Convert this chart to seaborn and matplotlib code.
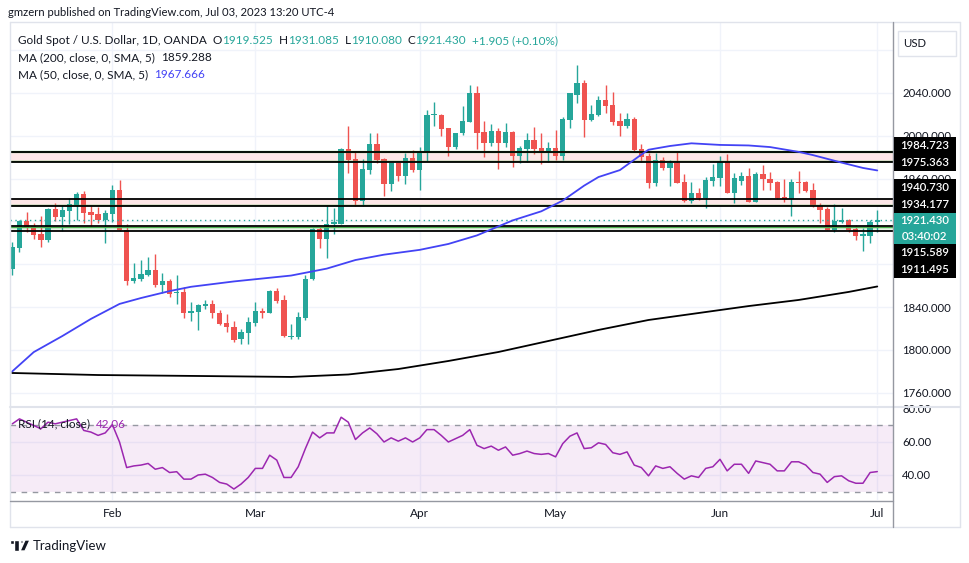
import numpy as np
import pandas as pd
import matplotlib
matplotlib.use("Agg")
import matplotlib.pyplot as plt
from matplotlib.patches import Rectangle, Circle, Polygon
from matplotlib.lines import Line2D
import seaborn as sns

sns.set_style("white")
plt.rcParams['font.family'] = ['Lato', 'DejaVu Sans']

# ---- data ----
dates = pd.bdate_range('2023-01-12', '2023-07-03')
dates = dates[dates != pd.Timestamp('2023-04-07')]   # Good Friday, no bar

opens = [1875.4, 1895.5, 1920.2, 1915.8, 1908.3, 1902.7, 1931.4, 1924.5, 1930.1, 1935.4,
         1945.7, 1928.9, 1926.7, 1921.4, 1927.3, 1949.4, 1912.1, 1864.7, 1866.6, 1870.0,
         1874.7, 1860.7, 1864.4, 1852.9, 1854.2, 1834.8, 1835.8, 1841.4, 1843.0, 1834.5,
         1824.9, 1821.5, 1810.0, 1816.2, 1825.2, 1836.4, 1834.8, 1855.1, 1846.7, 1812.4,
         1812.4, 1830.2, 1866.0, 1913.0, 1903.4, 1917.6, 1917.7, 1987.7, 1978.4, 1939.4,
         1968.1, 1992.4, 1978.4, 1955.0, 1974.3, 1962.5, 1979.0, 1968.1, 1983.7, 2019.2,
         2019.5, 2007.0, 1989.8, 2002.4, 2013.2, 2040.3, 2003.9, 1993.6, 2004.5, 1993.6,
         2003.9, 1981.4, 1987.7, 1996.1, 1988.6, 1986.1, 1988.6, 1981.4, 2014.8, 2038.4,
         2049.1, 2014.8, 2019.5, 2033.5, 2028.8, 2013.9, 2009.5, 2015.7, 1987.4, 1981.2,
         1956.2, 1977.4, 1970.2, 1974.3, 1956.6, 1939.4, 1946.3, 1942.2, 1958.1, 1960.9,
         1976.5, 1946.9, 1957.8, 1962.8, 1938.5, 1964.4, 1959.7, 1957.2, 1943.2, 1940.7,
         1956.6, 1956.6, 1949.4, 1935.4, 1931.7, 1912.1, 1919.2, 1921.7, 1913.0, 1906.7,
         1906.7, 1919.525]
highs = [1900.8, 1921.4, 1928.9, 1918.9, 1925.1, 1932.9, 1937.0, 1935.4, 1941.7, 1947.5,
         1948.8, 1934.5, 1933.9, 1930.7, 1954.1, 1958.7, 1917.7, 1881.0, 1884.0, 1886.5,
         1889.4, 1871.6, 1866.3, 1869.8, 1858.5, 1844.5, 1843.0, 1846.7, 1846.7, 1837.3,
         1833.3, 1826.8, 1819.3, 1830.6, 1844.5, 1839.0, 1856.0, 1858.2, 1851.4, 1824.3,
         1835.2, 1870.0, 1913.8, 1914.6, 1935.4, 1933.0, 1988.2, 2009.2, 1984.6, 1978.4,
         2002.9, 2002.9, 1978.9, 1974.9, 1974.8, 1984.2, 1986.8, 1989.8, 2024.1, 2031.3,
         2020.4, 2007.5, 2002.9, 2027.9, 2047.5, 2046.5, 2013.9, 2011.0, 2007.0, 2012.3,
         2004.5, 1990.5, 2002.4, 2008.0, 2002.9, 1994.2, 2005.4, 2017.9, 2040.3, 2066.1,
         2052.1, 2028.8, 2037.2, 2047.5, 2041.2, 2021.6, 2021.6, 2017.9, 1992.4, 1983.7,
         1983.7, 1980.5, 1977.4, 1984.6, 1964.4, 1956.6, 1951.0, 1961.8, 1973.7, 1981.4,
         1983.0, 1965.0, 1966.5, 1969.6, 1966.5, 1972.8, 1966.5, 1957.6, 1959.7, 1959.7,
         1967.2, 1957.8, 1955.7, 1937.6, 1933.8, 1936.3, 1932.9, 1922.1, 1916.7, 1913.6,
         1921.4, 1931.085]
lows = [1870.3, 1891.8, 1910.5, 1903.6, 1896.4, 1901.1, 1920.0, 1911.1, 1917.7, 1921.1,
        1918.4, 1915.8, 1918.4, 1900.2, 1919.8, 1911.1, 1860.7, 1862.3, 1864.7, 1868.9,
        1859.1, 1852.9, 1849.8, 1843.0, 1830.1, 1827.0, 1818.7, 1838.0, 1829.6, 1823.3,
        1817.1, 1807.7, 1805.3, 1805.3, 1822.7, 1830.1, 1834.5, 1843.6, 1812.4, 1810.0,
        1810.3, 1828.0, 1865.5, 1895.5, 1885.6, 1908.3, 1917.2, 1965.6, 1934.5, 1934.5,
        1964.4, 1974.9, 1943.8, 1948.5, 1957.8, 1955.0, 1966.0, 1949.4, 1976.8, 2009.5,
        2000.2, 1981.4, 1987.7, 2000.8, 2012.8, 1987.7, 1980.5, 1990.8, 1969.0, 1989.8,
        1971.2, 1974.3, 1975.8, 1982.7, 1973.7, 1975.3, 1977.4, 1977.4, 2007.6, 2030.4,
        1999.2, 2013.9, 2018.5, 2021.0, 2010.1, 2000.2, 2007.6, 1985.2, 1975.3, 1951.6,
        1953.4, 1968.1, 1953.4, 1955.8, 1938.5, 1937.0, 1940.1, 1932.3, 1953.4, 1953.1,
        1946.5, 1937.6, 1954.1, 1938.2, 1938.2, 1949.4, 1949.4, 1940.7, 1938.5, 1925.0,
        1946.9, 1947.8, 1933.9, 1918.3, 1911.6, 1909.9, 1918.8, 1910.5, 1902.7, 1892.7,
        1900.2, 1910.08]
closes = [1895.9, 1920.2, 1914.6, 1907.7, 1903.0, 1931.4, 1924.5, 1930.7, 1936.4, 1945.7,
          1928.2, 1926.3, 1921.4, 1927.6, 1949.4, 1911.6, 1864.7, 1867.5, 1870.7, 1874.7,
          1860.7, 1864.4, 1852.3, 1854.2, 1834.8, 1836.1, 1842.0, 1843.0, 1834.2, 1824.6,
          1821.2, 1809.3, 1816.8, 1826.1, 1836.4, 1834.8, 1855.4, 1846.0, 1812.9, 1813.4,
          1830.5, 1866.0, 1913.3, 1903.4, 1917.7, 1919.2, 1987.7, 1977.4, 1939.4, 1969.0,
          1992.4, 1977.4, 1955.0, 1974.3, 1962.5, 1979.0, 1968.1, 1984.2, 2019.5, 2019.7,
          2006.4, 1989.8, 2002.4, 2013.9, 2040.3, 2002.9, 1993.6, 2004.8, 1993.6, 2003.9,
          1981.4, 1988.6, 1996.1, 1987.7, 1986.1, 1988.6, 1981.4, 2015.7, 2039.7, 2049.1,
          2014.8, 2020.4, 2033.5, 2028.1, 2013.2, 2009.5, 2015.7, 1986.8, 1980.5, 1956.2,
          1977.4, 1970.2, 1974.3, 1956.2, 1939.4, 1946.3, 1942.2, 1958.7, 1961.8, 1976.5,
          1946.9, 1960.9, 1962.8, 1938.5, 1964.4, 1959.4, 1956.2, 1942.2, 1940.7, 1956.6,
          1955.7, 1948.8, 1934.5, 1930.7, 1912.1, 1920.5, 1921.7, 1912.1, 1906.7, 1908.0,
          1919.5, 1921.43]
rsi = [71, 74, 72, 70, 68, 72, 71, 72, 73, 74,
       67, 66, 64, 65.5, 70.5, 60, 44.5, 45.5, 46, 47,
       43.5, 44.5, 41.5, 42, 37.5, 37.5, 40, 40.5, 38.5, 35.5,
       34.5, 31.5, 34.5, 38.5, 44, 44, 52, 49, 38.5, 38.5,
       45, 56, 66, 62.5, 65.5, 65.5, 75, 72, 61.5, 65.5,
       68.5, 65, 60, 62.5, 60.5, 62.5, 60, 62.5, 67.5, 67.5,
       64, 60, 62, 64, 67.5, 58, 56, 57.5, 55, 57,
       52, 53, 54.5, 53, 52.5, 53, 51, 59, 63.5, 65.5,
       56, 56.5, 59.5, 58.5, 53.5, 52.5, 54, 46, 44.5, 39.5,
       45.5, 44, 45, 41, 37.5, 39.5, 38.5, 44, 45, 49.5,
       42.5, 46.5, 46.5, 41, 48.5, 47.5, 46.5, 42.5, 42.5, 48,
       48, 46, 41.5, 40.5, 35.5, 39, 39.5, 36.5, 35, 35,
       41.5, 42.06]

# moving averages, read at a few bars (bar number, value)
ma50_bar = [0, 3, 7, 11, 15, 18, 22, 25, 31, 39, 44, 48, 52, 57, 61, 65, 70, 74, 77, 80,
            82, 85, 88, 89, 92, 95, 99, 103, 106, 110, 112, 116, 119, 121]
ma50_val = [1780, 1798, 1813, 1829, 1843, 1848.5, 1855, 1859, 1864, 1869.5,
            1876, 1884, 1889, 1893.5, 1899, 1907, 1921, 1929.5, 1939.5, 1953.5,
            1961.5, 1968, 1982.5, 1987, 1990.5, 1993, 1991.5, 1991, 1989.5, 1985,
            1982, 1975, 1970, 1967.666]
ma200_bar = [0, 12, 26, 39, 47, 54, 61, 68, 75, 82, 89, 96, 103, 110, 117, 121]
ma200_val = [1778.5, 1776.6, 1775.7, 1774.8, 1777.1, 1782.2, 1789.7, 1798.1, 1808.4,
             1818.7, 1828.0, 1834.5, 1841.0, 1846.7, 1854.2, 1859.288]

levels = [1984.723, 1975.363, 1940.730, 1934.177, 1915.589, 1911.495]
countdown = "03:40:02"
price_ticks = [1760, 1800, 1840, 1880, 1920, 1960, 2000, 2040, 2080]
hidden_ticks = [1880, 1920, 2080]      # covered by the price boxes on the scale
rsi_ticks = [40, 60, 80]

GREEN = '#26a69a'
RED = '#ef5350'
TXT = '#131722'
BLUE = '#4343f5'
PURPLE = '#9c27b0'
GRID = '#f0f3fa'

df = pd.DataFrame({'date': dates, 'open': opens, 'high': highs,
                   'low': lows, 'close': closes, 'rsi': rsi})
df['bar'] = np.arange(len(df))
month_first = df.groupby(df['date'].dt.to_period('M'))['bar'].min().iloc[1:]
month_names = [p.strftime('%b') for p in month_first.index]

W, H = 970, 563
fig = plt.figure(figsize=(W / 100, H / 100), dpi=100)


def fx(px):
    return px / W


def fy(py):
    return 1 - py / H


ax = fig.add_axes([fx(10), fy(405), (893 - 10) / W, (405 - 22) / H])
ax2 = fig.add_axes([fx(10), fy(500), (893 - 10) / W, (500 - 407) / H], sharex=ax)

# grid
for t in price_ticks:
    ax.axhline(t, color=GRID, lw=1, zorder=0)
for t in [40, 60]:
    ax2.axhline(t, color=GRID, lw=1, zorder=0)
for p in month_first.values:
    ax.axvline(p, color=GRID, lw=1, zorder=0)
    ax2.axvline(p, color=GRID, lw=1, zorder=0)

# level bands
px_unit = 0.934
ax.axhspan(levels[1], levels[0], color='#fde7e7', lw=0, zorder=1)
ax.axhspan(levels[3], levels[2], color='#fde7e7', lw=0, zorder=1)
ax.axhspan(levels[5], levels[4], color='#e6f4e6', lw=0, zorder=1)
for lv in [levels[1], levels[3]]:
    ax.axhline(lv + px_unit, color='#4caf50', lw=1, zorder=5)
ax.axhline(levels[0], color='#4caf50', lw=1.6, zorder=5)
ax.axhline(levels[4] - px_unit, color='#4caf50', lw=1, zorder=5)
for lv in levels:
    ax.axhline(lv, color='black', lw=1.3, zorder=5)
ax.axhline(closes[-1], color=GREEN, lw=1, ls=(0, (1, 2.5)), zorder=5)

# candles
up = df['close'] >= df['open']
cols = np.where(up, GREEN, RED)
ax.vlines(df['bar'], df['low'], df['high'], colors=cols, lw=1, zorder=4)
body = (df['close'] - df['open']).abs().clip(lower=0.9)
ax.bar(df['bar'], body, bottom=df[['open', 'close']].min(axis=1), width=0.74,
       color=cols, linewidth=0, zorder=4)

# moving averages
sns.lineplot(x=ma200_bar, y=ma200_val, ax=ax, color='black', lw=1.3, zorder=6)
sns.lineplot(x=ma50_bar, y=ma50_val, ax=ax, color=BLUE, lw=1.3, zorder=6)

# RSI pane
ax2.axhspan(30, 70, color=PURPLE, alpha=0.09, lw=0, zorder=1)
for t in [30, 70]:
    ax2.axhline(t, color='#9598a1', lw=1, ls=(0, (4, 4)), zorder=2)
sns.lineplot(x=df['bar'].values, y=df['rsi'].values, ax=ax2, color=PURPLE, lw=1.1, zorder=4)

ax.set_xlim(-0.32, 123.2)
ax.set_ylim(1748.6, 2106.3)
ax2.set_ylim(24.85, 81.2)

for a in (ax, ax2):
    a.set_xlabel('')
    a.set_ylabel('')
    for s in a.spines.values():
        s.set_visible(False)
    a.yaxis.tick_right()
    a.tick_params(axis='y', length=0, pad=6.5, labelsize=8.2, labelcolor=TXT)
ax.set_yticks(price_ticks)
ax.set_yticklabels(['' if t in hidden_ticks else f'{t:.3f}' for t in price_ticks])
ax.tick_params(axis='x', length=0, labelbottom=False)
ax2.set_yticks(rsi_ticks)
ax2.set_yticklabels([f'{t:.2f}' for t in rsi_ticks])
ax2.set_xticks(month_first.values)
ax2.set_xticklabels(month_names)
ax2.tick_params(axis='x', length=0, pad=6, labelsize=8.5, labelcolor=TXT)

# frame lines
def fline(x0, y0, x1, y1, c, lw=1):
    fig.add_artist(Line2D([fx(x0), fx(x1)], [fy(y0), fy(y1)], color=c, lw=lw,
                          transform=fig.transFigure, zorder=4))

fline(10, 22, 960, 22, '#e0e3eb')
fline(10, 527, 960, 527, '#e0e3eb')
fline(10, 22, 10, 527, '#e0e3eb')
fline(960, 22, 960, 527, '#e0e3eb')
fline(10, 406.5, 960, 406.5, '#e0e3eb', 1.5)
fline(10, 500.5, 893, 500.5, '#9598a1')
fline(893.5, 22, 893.5, 527, '#9598a1')

# price scale labels (stacked like the platform does)
def to_py(v):
    return H - ax.transData.transform((0, v))[1]


def price_box(yc, h, face, lines):
    fig.add_artist(Rectangle((fx(894), fy(yc + h / 2)), 62 / W, h / H, transform=fig.transFigure,
                             facecolor=face, edgecolor='none', zorder=5))
    n = len(lines)
    for k, s in enumerate(lines):
        ty = yc - h / 2 + h * (k + 0.5) / n
        fig.text(fx(925), fy(ty), s, color='white', fontsize=8.2, ha='center', va='center',
                 fontweight='semibold', zorder=6)


cur = to_py(closes[-1])
cur_top, cur_bot = cur - 7, cur + 24
price_box((cur_top + cur_bot) / 2, cur_bot - cur_top, GREEN, [f'{closes[-1]:.3f}', countdown])
edge = cur_top
for lv in sorted([l for l in levels if l > closes[-1]]):
    yc = min(to_py(lv), edge - 8.5)
    price_box(yc, 17, 'black', [f'{lv:.3f}'])
    edge = yc - 8.5
edge = cur_bot
for lv in sorted([l for l in levels if l < closes[-1]], reverse=True):
    yc = max(to_py(lv), edge + 8.5)
    price_box(yc, 17, 'black', [f'{lv:.3f}'])
    edge = yc + 8.5

# currency box
fig.add_artist(Rectangle((fx(898), fy(56)), 58 / W, 25 / H, transform=fig.transFigure,
                         facecolor='white', edgecolor='#e0e3eb', lw=1, zorder=5))
fig.text(fx(903), fy(43.5), 'USD', color=TXT, fontsize=8.2, va='center', zorder=6)

# legend texts
renderer = fig.canvas.get_renderer()


def seq_text(x, y, parts, size):
    for s, c, gap in parts:
        t = fig.text(fx(x), fy(y), s, color=c, fontsize=size, va='center', ha='left', zorder=6)
        x += t.get_window_extent(renderer).width + gap


fig.text(fx(8), fy(13), 'gmzern published on TradingView.com, Jul 03, 2023 13:20 UTC-4',
         color=TXT, fontsize=8.1, va='center')
chg = closes[-1] - opens[-1]
seq_text(18, 41, [('Gold Spot / U.S. Dollar, 1D, OANDA', TXT, 6),
                  ('O', TXT, 0), (f'{opens[-1]:.3f}', GREEN, 6),
                  ('H', TXT, 0), (f'{highs[-1]:.3f}', GREEN, 6),
                  ('L', TXT, 0), (f'{lows[-1]:.3f}', GREEN, 6),
                  ('C', TXT, 0), (f'{closes[-1]:.3f}', GREEN, 6),
                  (f'{chg:+.3f} ({chg / opens[-1] * 100:+.2f}%)', GREEN, 0)], 8.5)
seq_text(18, 58, [('MA (200, close, 0, SMA, 5)', TXT, 6), (f'{ma200_val[-1]:.3f}', TXT, 0)], 8.5)
seq_text(18, 75, [('MA (50, close, 0, SMA, 5)', TXT, 6), (f'{ma50_val[-1]:.3f}', BLUE, 0)], 8.5)
seq_text(18, 424, [('RSI (14, close)', TXT, 6), (f'{rsi[-1]:.2f}', PURPLE, 0)], 8.5)

# footer logo
fig.add_artist(Rectangle((fx(10), fy(544)), 9 / W, 4 / H, transform=fig.transFigure,
                         facecolor=TXT, zorder=5))
fig.add_artist(Rectangle((fx(14), fy(551)), 5 / W, 11 / H, transform=fig.transFigure,
                         facecolor=TXT, zorder=5))
fig.add_artist(Circle((fx(22), fy(542)), 2 / W, transform=fig.transFigure,
                      facecolor=TXT, zorder=5))
fig.add_artist(Polygon([(fx(25), fy(540)), (fx(30), fy(540)), (fx(25), fy(551)), (fx(20), fy(551))],
                       closed=True, transform=fig.transFigure, facecolor=TXT, zorder=5))
fig.text(fx(33), fy(545.5), 'TradingView', color=TXT, fontsize=9.5, va='center')

fig.savefig('out.png', dpi=100, facecolor='white')
